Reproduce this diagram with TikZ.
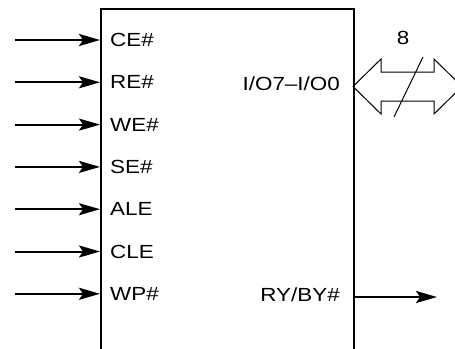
\documentclass[tikz,border=0pt]{standalone}
\usepackage{fontspec}
\setmainfont{Liberation Sans}[FakeStretch=1.18]
\usetikzlibrary{arrows.meta}
\tikzset{
    chip-box/.style = {draw, line width=2pt, minimum width=253pt, minimum height=360pt, anchor=north west, inner sep=0pt},
    pin-label/.style = {anchor=west, inner sep=0pt, font=\fontsize{19}{22}\selectfont},
    pin-arrow/.style = {line width=2pt, -{Stealth[length=21pt, width=12pt, inset=4pt]}},
    bus-arrow/.style = {draw, line width=1pt, line join=miter},
}

\begin{document}
\begin{tikzpicture}[x=1pt, y=-1pt]
\useasboundingbox (0,0) rectangle (455,348);
\clip (0,0) rectangle (455,348);
\node [chip-box] (chip) at (100,8) {};
% input pins
\foreach \name [count=\i] in {CE\#, RE\#, WE\#, SE\#, ALE, CLE, WP\#}{
    \pgfmathsetmacro{\ypos}{40+42.3*(\i-1)}
    \coordinate (in-\i) at (15,\ypos);
    \node [pin-label] (pin-\i) at (110,\ypos) {\name};
    \draw [pin-arrow] (in-\i) -- (in-\i -| chip.west);
}
% data bus
\node [pin-label, anchor=east] (io-label) at (340,84) {I/O7–I/O0};
\coordinate (bus) at (353,86.5);
\draw [bus-arrow] (bus) -- ++(28,-27.5) -- ++(0,13) -- ++(53,0) -- ++(0,-13) -- ++(28,27.5)
    -- ++(-28,27.5) -- ++(0,-13) -- ++(-53,0) -- ++(0,13) -- cycle;
\coordinate (slash-a) at (394,117);
\coordinate (slash-b) at (423,57);
\draw [line width=1pt] (slash-a) -- (slash-b);
\node [pin-label, anchor=center] (bus-width) at (403,38) {8};
% ready/busy output
\node [pin-label, anchor=east] (ry-label) at (340,295) {RY/BY\#};
\coordinate (ry-out) at (437,297);
\draw [pin-arrow] (ry-out -| chip.east) -- (ry-out);
\end{tikzpicture}
\end{document}
